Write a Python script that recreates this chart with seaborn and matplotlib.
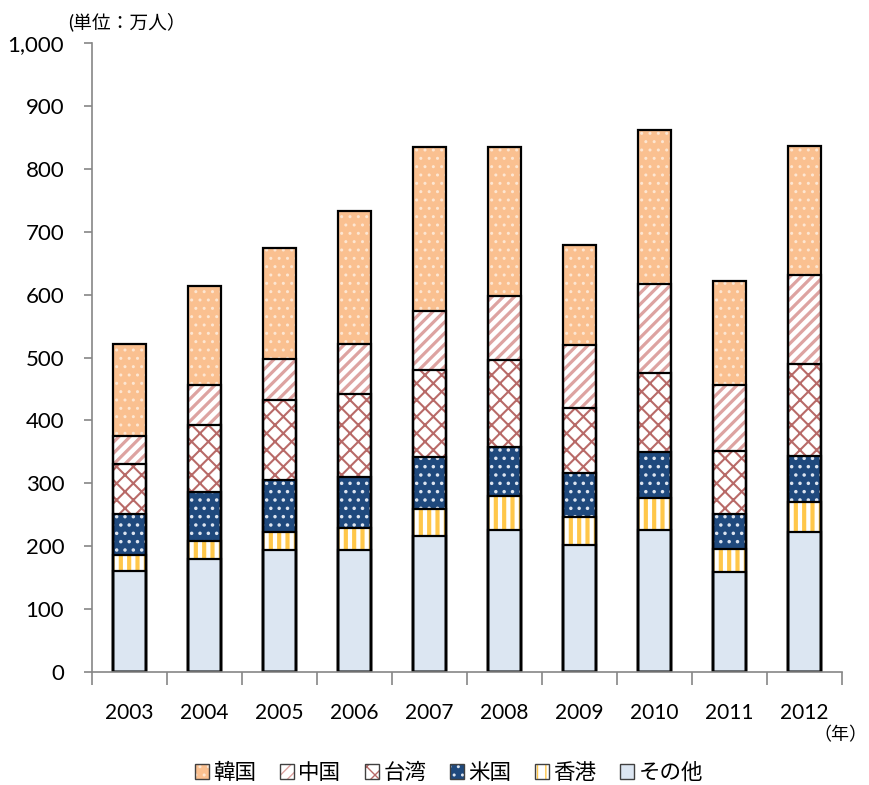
import numpy as np
import pandas as pd
import matplotlib
matplotlib.use("Agg")
import matplotlib.pyplot as plt
from matplotlib.patches import Patch
from matplotlib.ticker import StrMethodFormatter
import seaborn as sns

years = ["2003", "2004", "2005", "2006", "2007", "2008", "2009", "2010", "2011", "2012"]
# bottom to top
sonota = [160, 180, 194, 194, 216, 226, 202, 226, 159, 223]
hongkong = [26, 28, 29, 35, 43, 54, 44, 51, 37, 47]
usa = [65, 78, 82, 81, 83, 78, 70, 73, 55, 73]
taiwan = [80, 107, 127, 132, 138, 138, 104, 125, 100, 147]
china = [44, 63, 66, 79, 94, 102, 100, 142, 105, 141]
korea = [146, 158, 176, 212, 261, 237, 159, 245, 166, 205]

names = ["その他", "香港", "米国", "台湾", "中国", "韓国"]
layers = [sonota, hongkong, usa, taiwan, china, korea]
faces = ["#DCE6F2", "white", "#1F497D", "white", "white", "#FAC090"]
hatch_colors = ["#DCE6F2", "#FFC74A", "#DCE4F0", "#B86A68", "#DDA3A1", "#FDE6D2"]
hatches = [None, "||", "..", "xx", "///", ".."]
hatch_lw = [1, 3.0, 1.3, 1.5, 2.3, 1.0]

plt.rcParams["font.family"] = ["Lato", "Noto Sans CJK JP", "DejaVu Sans"]

df = pd.DataFrame({"year": years})
cum = np.zeros(len(years))
for name, vals in zip(names, layers):
    cum = cum + np.array(vals)
    df[name] = cum

fig = plt.figure(figsize=(8.69, 7.85), dpi=100)
ax = fig.add_axes([92 / 869, 1 - 672 / 785, 750 / 869, 629 / 785])

# hatched fills, top layer first so lower layers overlay
for i in reversed(range(len(names))):
    sns.barplot(df, x="year", y=names[i], color=faces[i], saturation=1,
                hatch=hatches[i], edgecolor=hatch_colors[i], linewidth=0,
                width=0.43, errorbar=None, ax=ax)
    for p in ax.patches[-len(years):]:
        if hasattr(p, "set_hatch_linewidth"):
            p.set_hatch_linewidth(hatch_lw[i])

# black outlines
for i in range(len(names)):
    sns.barplot(df, x="year", y=names[i], color="black", fill=False,
                linewidth=1.6, width=0.43, errorbar=None, ax=ax)

ax.set_xlim(-0.5, 9.5)
ax.set_ylim(0, 1000)
ax.set_yticks(np.arange(0, 1001, 100))
ax.yaxis.set_major_formatter(StrMethodFormatter("{x:,.0f}"))
ax.set_xticks(np.arange(-0.5, 10, 1), minor=True)
ax.set_xlabel("")
ax.set_ylabel("")

for s in ["top", "right"]:
    ax.spines[s].set_visible(False)
for s in ["left", "bottom"]:
    ax.spines[s].set_color("#868686")
    ax.spines[s].set_linewidth(1.2)

ax.tick_params(axis="y", length=6, width=1.2, color="#868686", labelsize=16, pad=14)
ax.tick_params(axis="x", which="major", length=0, labelsize=15, pad=22)
ax.tick_params(axis="x", which="minor", length=9, width=1.2, color="#868686")

fig.text(68 / 869, 1 - 22 / 785, "(単位：万人）", fontsize=13.5, va="center", ha="left")
fig.text(867 / 869, 1 - 735 / 785, "（年）", fontsize=13, va="center", ha="right")

handles = []
for i in reversed(range(len(names))):
    handles.append((Patch(facecolor=faces[i], hatch=hatches[i], edgecolor=hatch_colors[i], linewidth=0),
                    Patch(facecolor="none", edgecolor="#404040", linewidth=1)))
fig.legend(handles, list(reversed(names)), loc="center", bbox_to_anchor=(449 / 869, 1 - 773 / 785),
           ncol=6, frameon=False, fontsize=15.5, handlelength=0.65, handleheight=0.65,
           handletextpad=0.2, columnspacing=1.1)

fig.savefig("out.png", dpi=100)
